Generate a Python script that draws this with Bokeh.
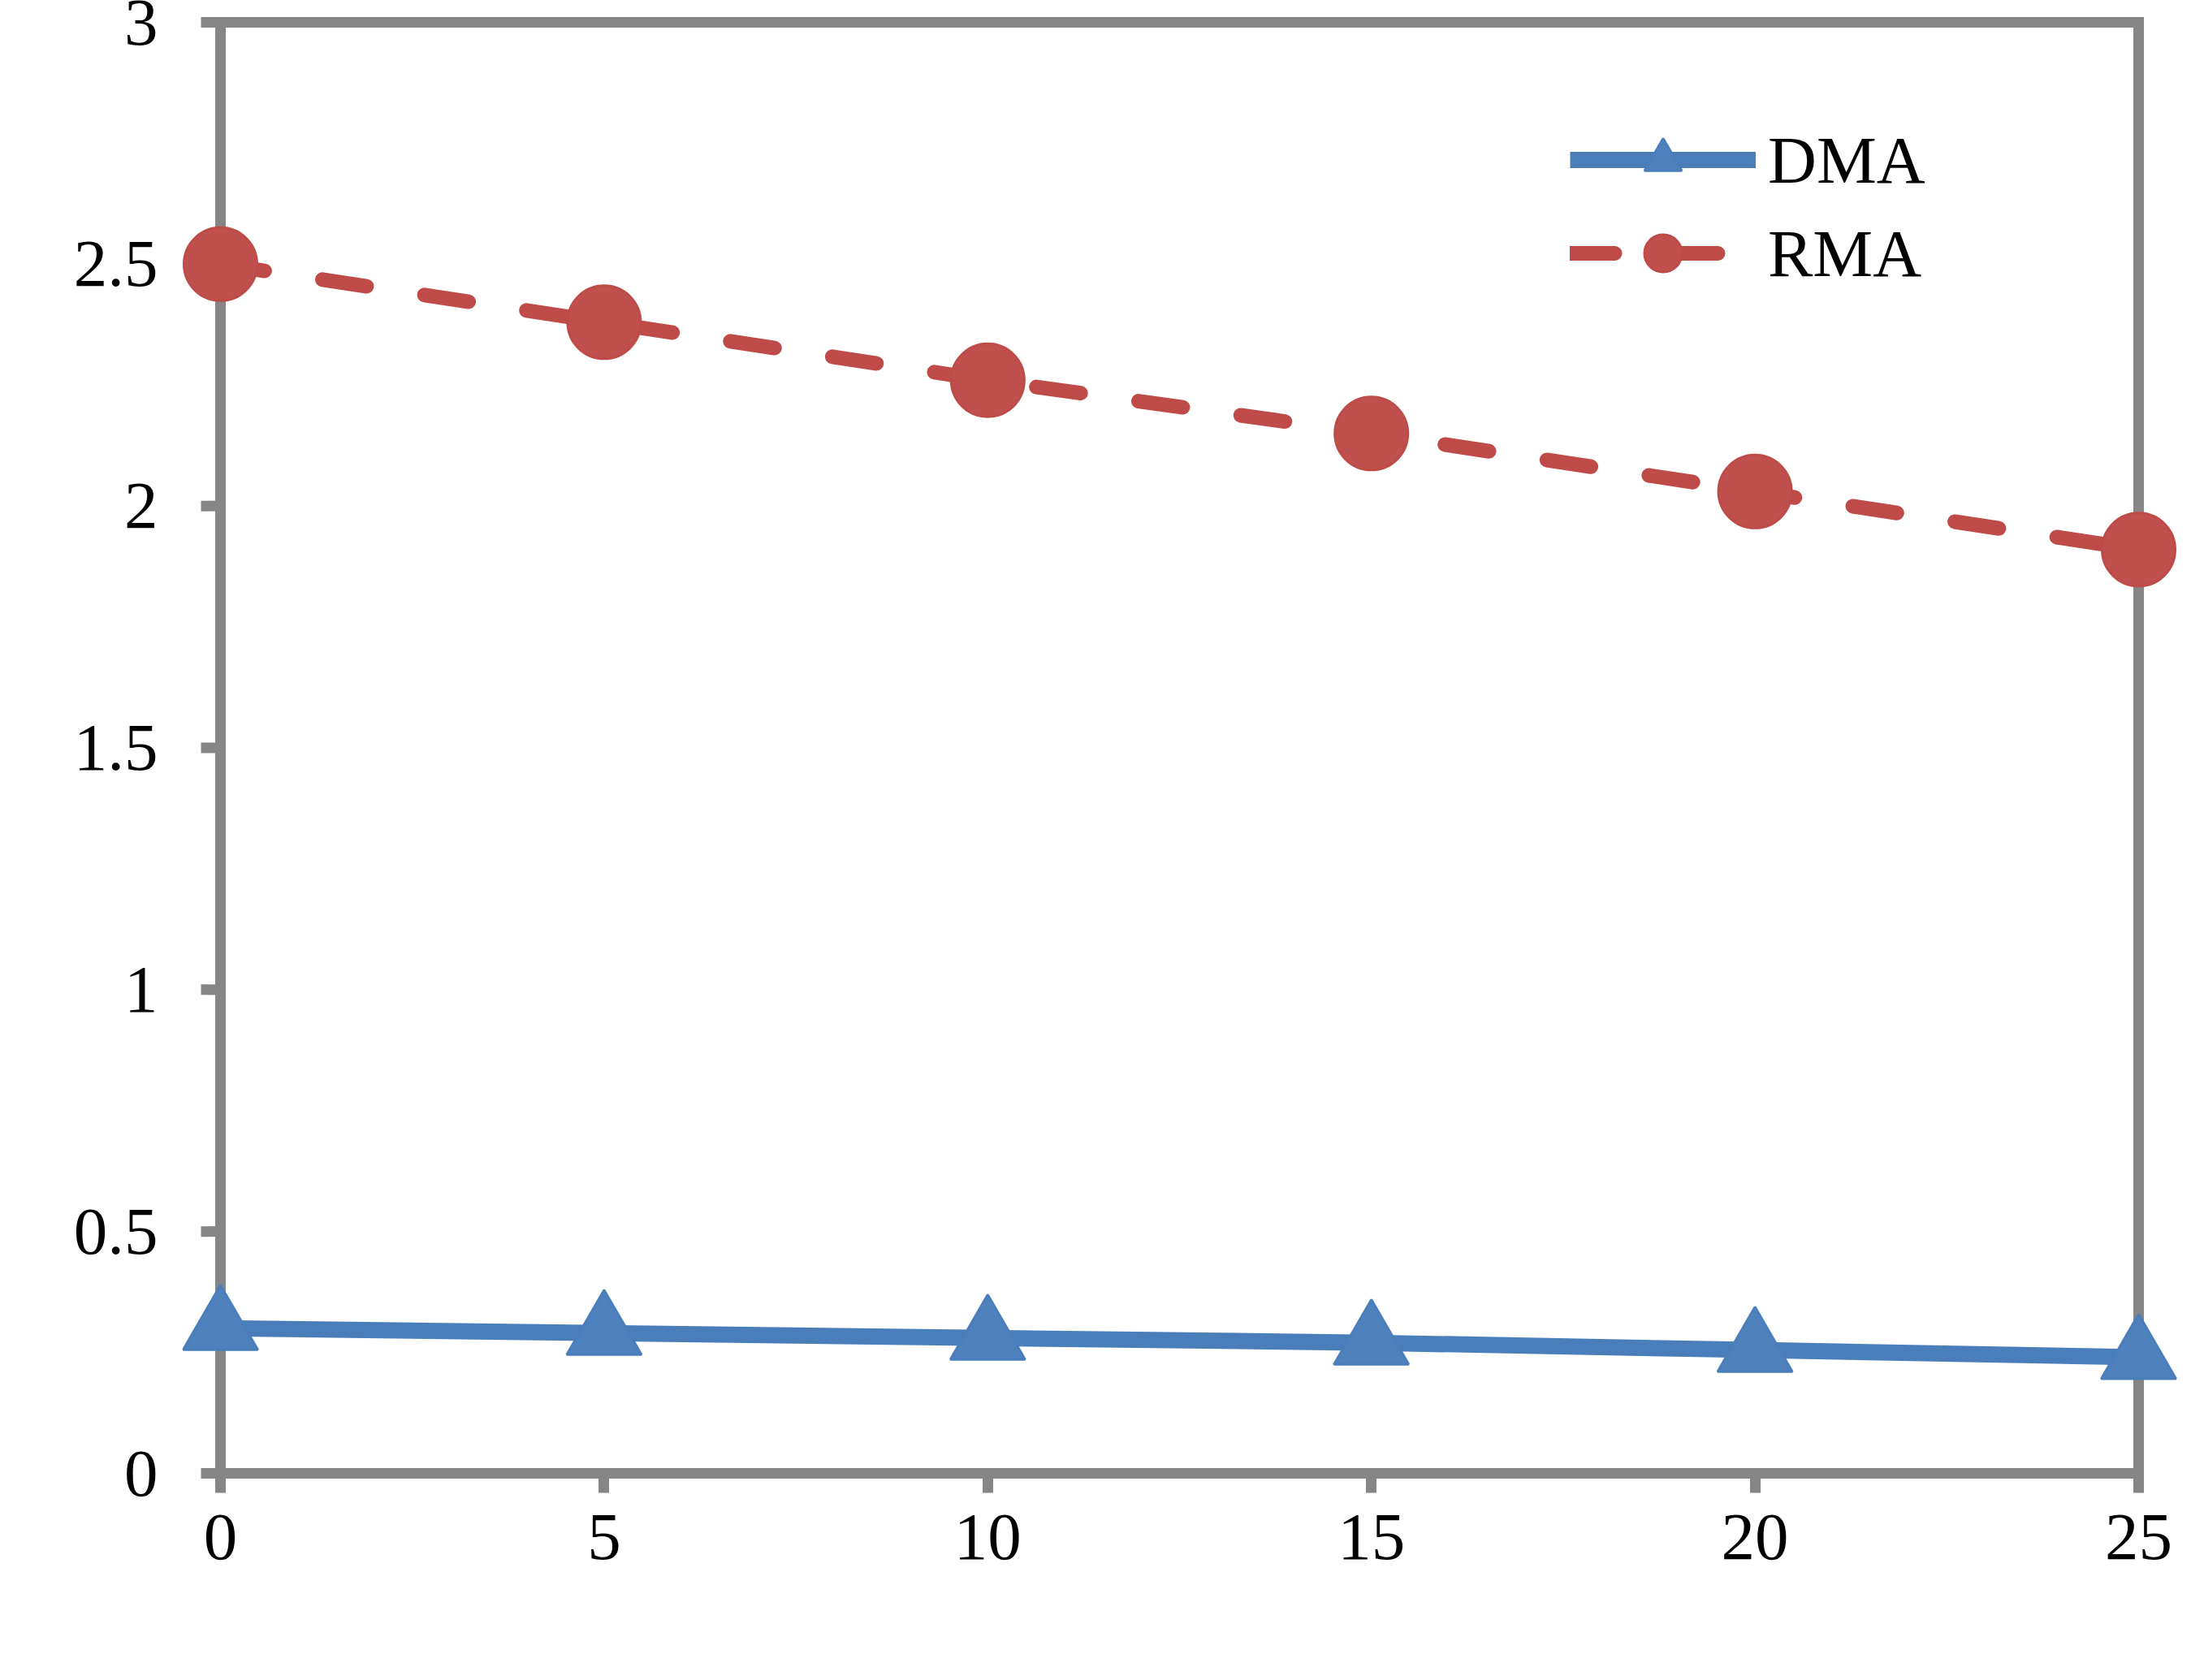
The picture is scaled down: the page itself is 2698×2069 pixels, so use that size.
from bokeh.plotting import figure
from bokeh.models import Range1d, Legend, LegendItem, FixedTicker, CustomJSTickFormatter, Label
from bokeh.embed import file_html
from bokeh.resources import INLINE

# ---- data ----
x_vals = [0, 5, 10, 15, 20, 25]
dma = [0.30, 0.29, 0.28, 0.27, 0.255, 0.24]
rma = [2.50, 2.38, 2.26, 2.15, 2.03, 1.91]
x_ticks = [0, 5, 10, 15, 20, 25]
y_ticks = [0, 0.5, 1, 1.5, 2, 2.5, 3]
y_tick_labels = ["0", "0.5", "1", "1.5", "2", "2.5", "3"]
x_label = "Volume fraction (vol%) of biodiesel"
y_label = "Carbon residue (wt. %)"
series_names = ["DMA", "RMA"]

# ---- layout (canvas pixels) ----
W, H = 2681, 2053
FL, FR, FT, FB = 224, 2681, 17, 1824   # frame edges
X0PX, X1PX = 271, 2633                 # pixel of x=0 and x=25
Y0PX, Y3PX = 1814, 27                  # pixel of y=0 and y=3
sx = (X1PX - X0PX) / (x_ticks[-1] - x_ticks[0])
sy = (Y0PX - Y3PX) / (y_ticks[-1] - y_ticks[0])
x_range = Range1d(start=x_ticks[0] - (X0PX - FL) / sx, end=x_ticks[-1] + (FR - X1PX) / sx)
y_range = Range1d(start=y_ticks[0] - (FB - Y0PX) / sy, end=y_ticks[-1] + (Y3PX - FT) / sy)

GRAY = "#868686"
FONT = "Liberation Serif"
BLUE_L, BLUE_F = "#4A7EBB", "#4F81BD"
RED_L, RED_F = "#BE4B48", "#C0504D"
TICK = 24

p = figure(width=W, height=H, x_range=x_range, y_range=y_range,
           output_backend="svg", toolbar_location=None,
           min_border_left=FL, min_border_right=W - FR,
           min_border_top=FT, min_border_bottom=H - FB)
p.outline_line_color = None
p.xgrid.grid_line_color = None
p.ygrid.grid_line_color = None
p.background_fill_color = "white"
p.border_fill_color = "white"

for ax in (p.xaxis[0], p.yaxis[0]):
    ax.axis_line_color = None
    ax.minor_tick_line_color = None
    ax.major_label_text_font = FONT
    ax.major_label_text_font_size = "83px"
    ax.major_label_text_color = "black"

xax = p.xaxis[0]
xax.ticker = FixedTicker(ticks=x_ticks)
xax.major_tick_line_color = GRAY
xax.major_tick_line_width = 13
xax.major_tick_in = FB - Y0PX
xax.major_tick_out = TICK - (FB - Y0PX)
xax.major_label_standoff = 27

yax = p.yaxis[0]
yax.ticker = FixedTicker(ticks=y_ticks)
yax.formatter = CustomJSTickFormatter(
    args=dict(vals=y_ticks, labs=y_tick_labels),
    code="const i = vals.indexOf(tick); return i >= 0 ? labs[i] : String(tick);")
yax.major_tick_line_color = None
yax.major_tick_in = 0
yax.major_tick_out = 0
yax.major_label_standoff = FL - 194

# frame lines (drawn as glyphs beneath the series)
xa, xb = x_ticks[0], x_ticks[-1]
ya, yb = y_ticks[0], y_ticks[-1]
p.segment(x0=[xa, xa, xa, xb], y0=[ya, ya, yb, ya],
          x1=[xa, xb, xb, xb], y1=[yb, ya, yb, yb],
          line_color=GRAY, line_width=13, line_cap="square")
# y-axis tick marks
p.segment(x0=[xa] * len(y_ticks), y0=y_ticks,
          x1=[xa - TICK / sx] * len(y_ticks), y1=y_ticks,
          line_color=GRAY, line_width=13)

# series
l1 = p.line(x_vals, dma, line_color=BLUE_L, line_width=20)
m1 = p.scatter(x_vals, dma, marker="triangle", size=92,
               fill_color=BLUE_F, line_color=BLUE_L, line_width=3)
l2 = p.line(x_vals, rma, line_color=RED_L, line_width=18,
            line_dash="55 72", line_cap="round")
m2 = p.scatter(x_vals, rma, marker="circle", size=90,
               fill_color=RED_F, line_color=RED_L, line_width=3)

legend = Legend(items=[LegendItem(label=series_names[0], renderers=[l1, m1]),
                       LegendItem(label=series_names[1], renderers=[l2, m2])],
                location=(1709, 1455))
legend.glyph_width = 229
legend.glyph_height = 115
legend.label_height = 115
legend.spacing = 0
legend.label_standoff = 15
legend.padding = 0
legend.margin = 0
legend.border_line_color = None
legend.background_fill_alpha = 0
legend.label_text_font = FONT
legend.label_text_font_size = "83px"
legend.label_text_color = "black"
p.add_layout(legend, "center")

# axis titles (102px: a bold "100px" font string trips the SVG font parser)
p.add_layout(Label(x=(xa + xb) / 2, y=(Y0PX - 2034) / sy,
                   text=x_label, text_font=FONT, text_font_size="102px",
                   text_font_style="bold", text_align="center",
                   text_baseline="alphabetic", text_color="black"))
p.add_layout(Label(x=(70 - X0PX) / sx, y=(Y0PX - 967) / sy,
                   text=y_label, text_font=FONT, text_font_size="102px",
                   text_font_style="bold", text_align="center", angle=1.5707963,
                   text_baseline="alphabetic", text_color="black"))

open("out.html", "w").write(file_html(p, INLINE))
